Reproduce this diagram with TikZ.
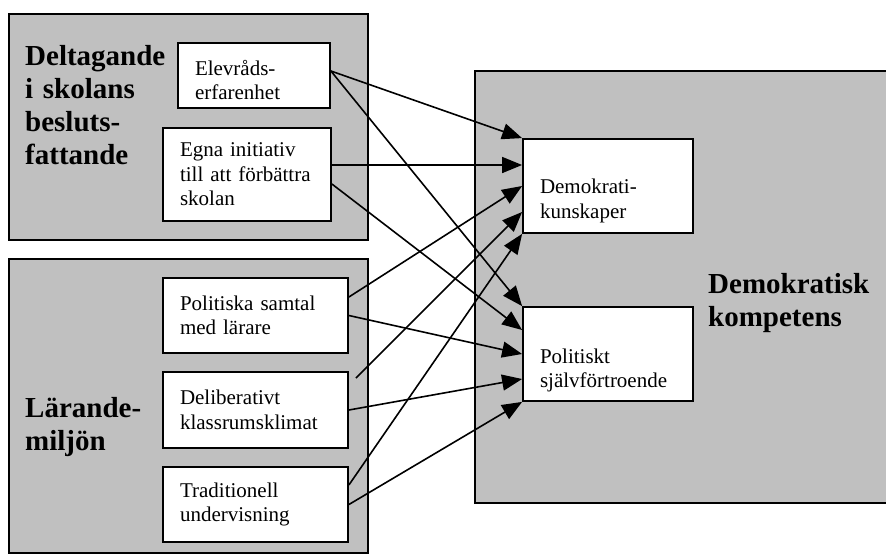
\documentclass[tikz,border=0pt]{standalone}
\usepackage{fontspec}
\setmainfont{Liberation Serif}
\usetikzlibrary{arrows.meta}
\definecolor{panelgray}{HTML}{C0C0C0}
\begin{document}
\begin{tikzpicture}[x=1pt,y=-1pt,
  panel/.style={draw=black, line width=1.8pt, fill=panelgray, inner sep=0pt},
  box/.style={draw=black, line width=1.8pt, fill=white, inner xsep=17pt, inner ysep=0pt,
              align=left, font=\fontsize{21}{24.5}\selectfont},
  lbl/.style={inner sep=0pt, anchor=base west, align=left, text width=200pt,
              font=\fontsize{29}{33}\selectfont\bfseries},
  arr/.style={line width=1.6pt, -{Triangle[length=20pt,width=16pt]}}]
\useasboundingbox (0,0) rectangle (886,555);
\begin{scope}
\clip (0,0) rectangle (886,555);
% panels
\node[panel, minimum width=359pt, minimum height=226pt] (p1) at (188.5,127) {};
\node[panel, minimum width=359pt, minimum height=294pt] (p2) at (188.5,406) {};
\node[panel, minimum width=415pt, minimum height=432pt] (p3) at (682.5,287) {};
\end{scope}
% panel labels
\node[lbl] (l1) at (25,65) {Deltagande\\i skolans\\besluts-\\fattande};
\node[lbl] (l2) at (25,417) {Lärande-\\miljön};
\node[lbl] (l3) at (708,293) {Demokratisk\\kompetens};
% boxes
\node[box, text width=118pt, minimum height=65pt] (elev) at (254,75.5) {\rule{0pt}{24pt}Elevråds-\\erfarenhet};
\node[box, text width=134pt, minimum height=93pt] (egna) at (247,174.5) {Egna initiativ\\till att förbättra\\skolan};
\node[box, text width=151pt, minimum height=75pt] (pol) at (255.5,315.5) {Politiska samtal\\med lärare};
\node[box, text width=151pt, minimum height=76pt] (del) at (255.5,410) {Deliberativt\\klassrumsklimat};
\node[box, text width=151pt, minimum height=75pt] (trad) at (255.5,504.5) {Traditionell\\undervisning};
\node[box, text width=136pt, minimum height=94pt] (dk) at (608,186) {\rule{0pt}{44pt}Demokrati-\\kunskaper};
\node[box, text width=136pt, minimum height=94pt] (ps) at (608,354) {\rule{0pt}{47pt}Politiskt\\självförtroende};
% arrows
\draw[arr] ([yshift=4.5pt]elev.east) -- (dk.north west);
\draw[arr] ([yshift=4.5pt]elev.east) -- (ps.north west);
\draw[arr] ([yshift=9.5pt]egna.east) -- ([yshift=21pt]dk.west);
\draw[arr] ([yshift=-9.5pt]egna.east) -- ([yshift=24pt]ps.west);
\draw[arr] ([yshift=18.5pt]pol.east) -- (dk.west);
\draw[arr] (pol.east) -- (ps.west);
\draw[arr] ([xshift=7pt,yshift=-7pt]del.north east) -- ([yshift=-26pt]dk.west);
\draw[arr] (del.east) -- ([yshift=-25pt]ps.west);
\draw[arr] ([yshift=19.5pt]trad.east) -- (dk.south west);
\draw[arr] (trad.east) -- (ps.south west);
\end{tikzpicture}
\end{document}
